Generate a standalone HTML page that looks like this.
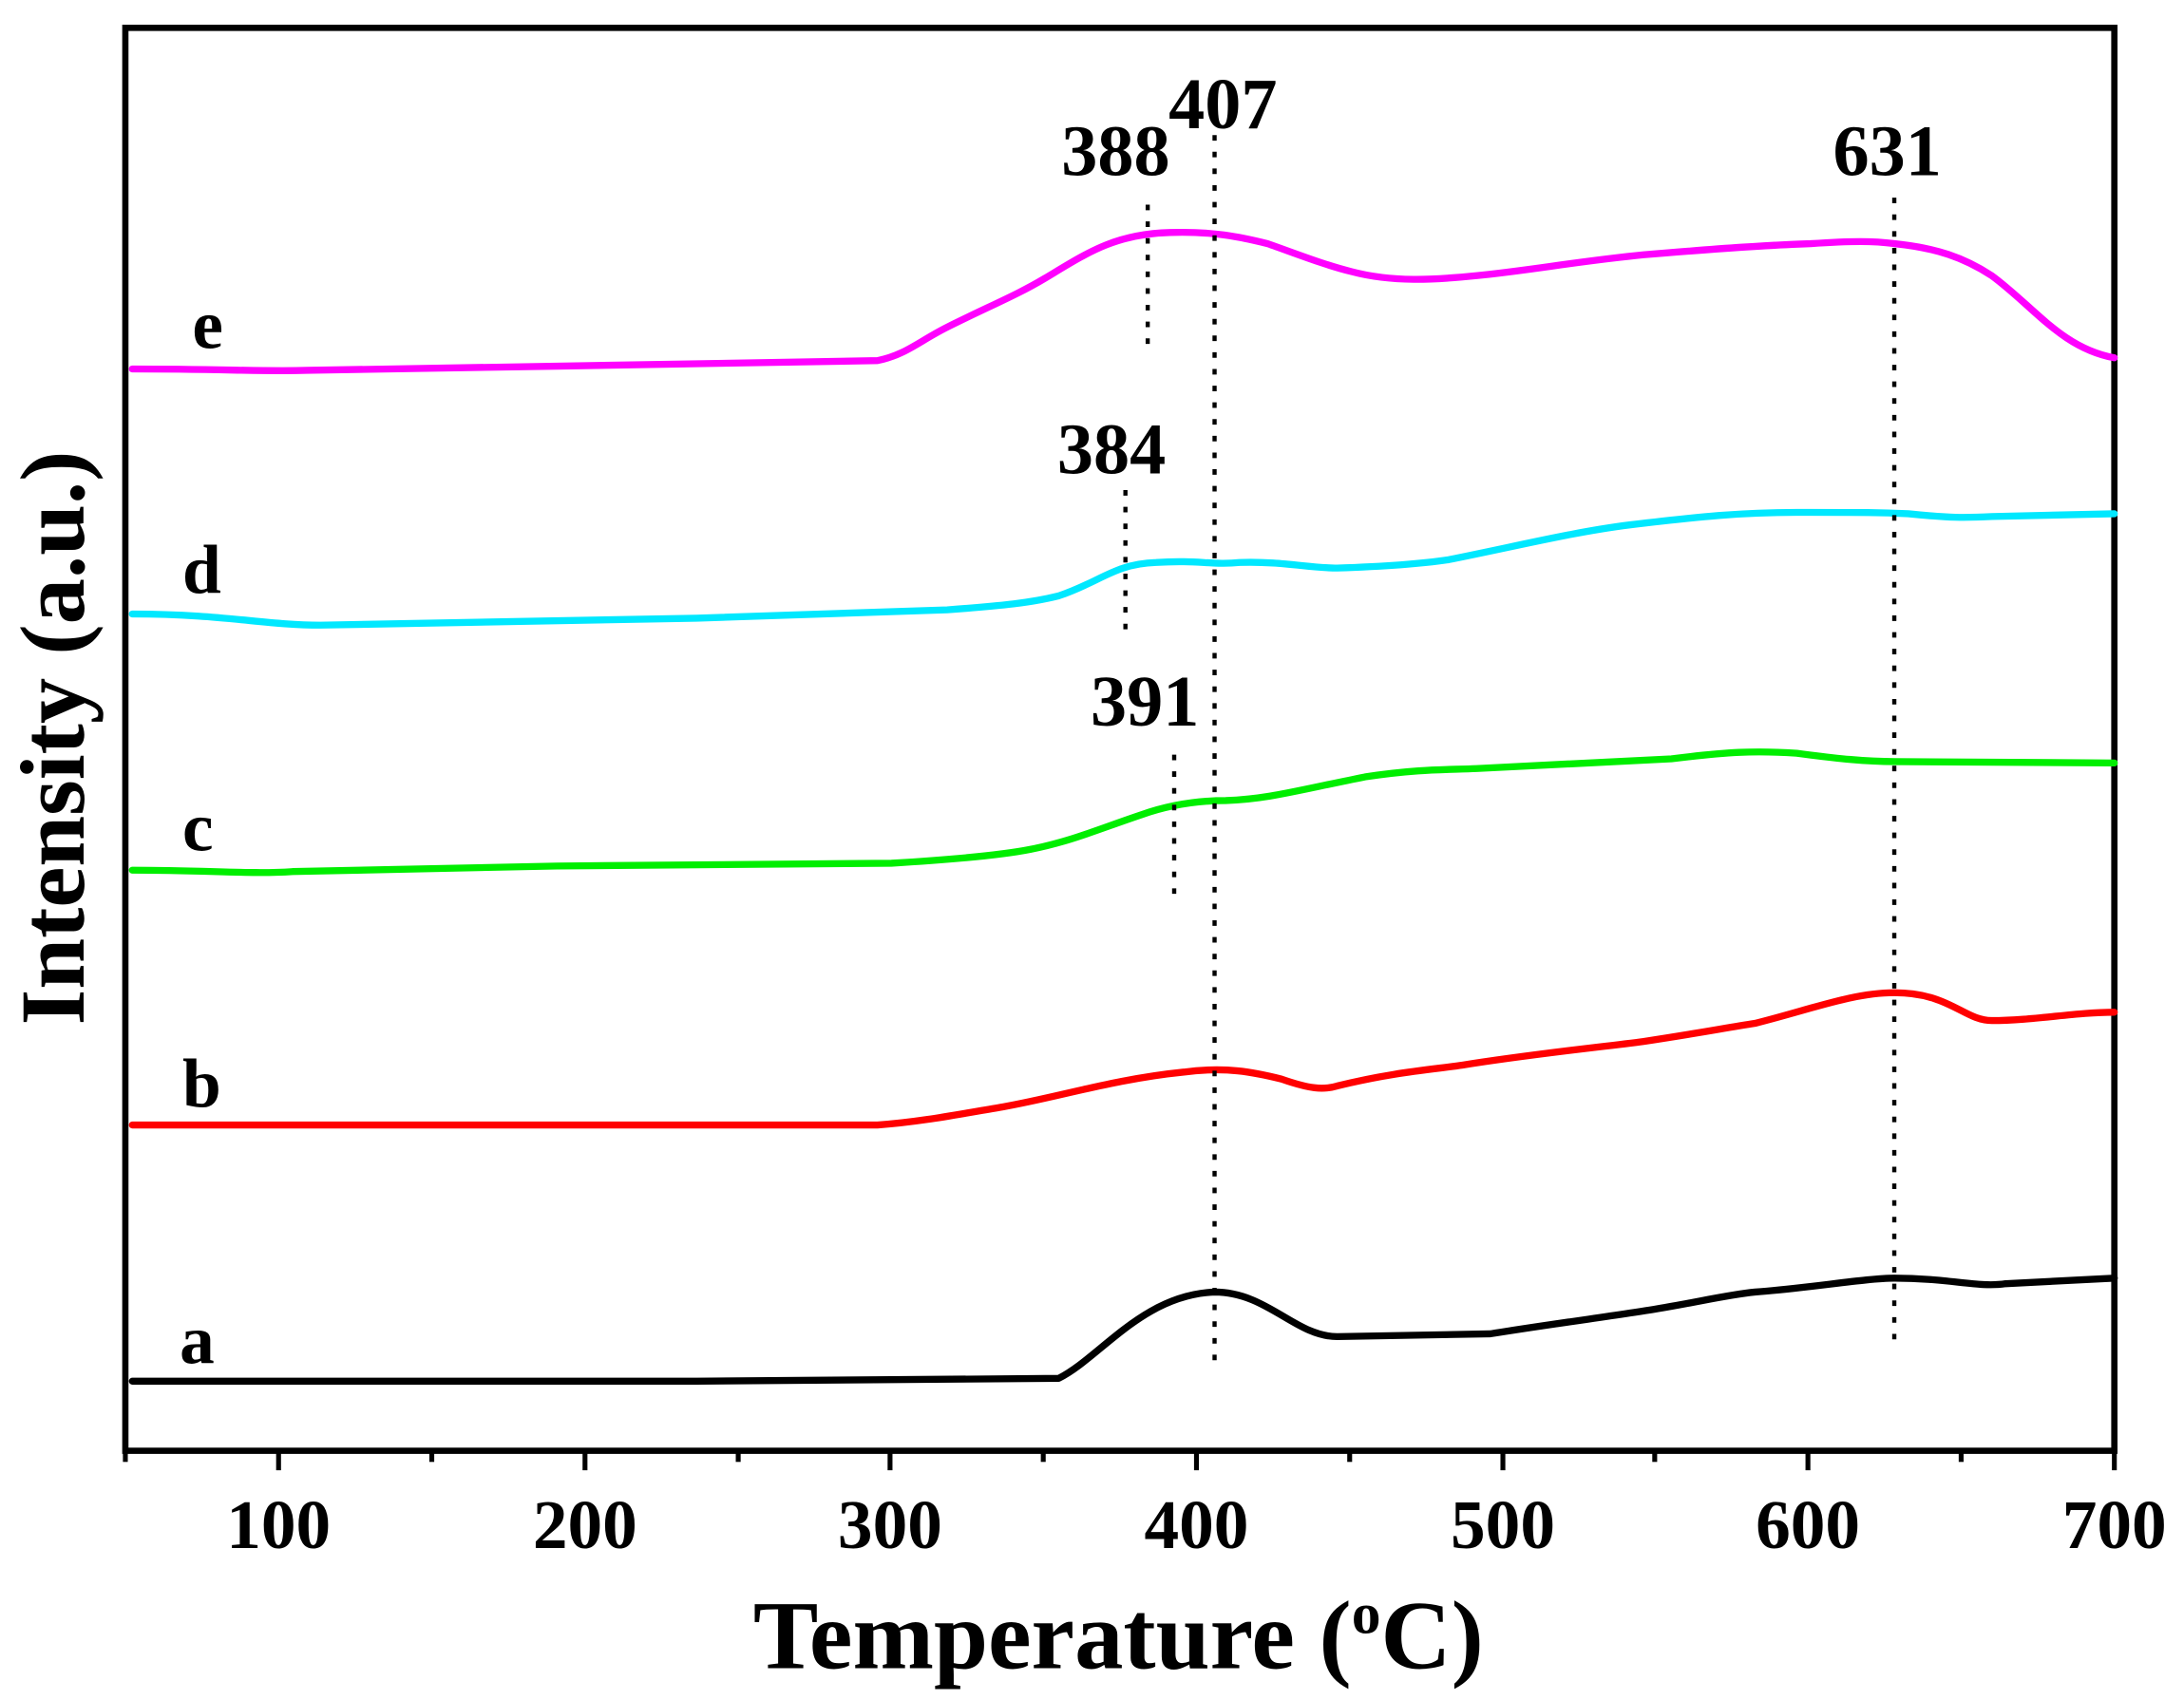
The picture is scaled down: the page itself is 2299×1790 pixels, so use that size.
<!DOCTYPE html>
<html><head><style>html,body{margin:0;padding:0;background:#fff}svg{display:block}</style></head>
<body>
<svg width="2299" height="1790" viewBox="0 0 1568 1221" preserveAspectRatio="none" xmlns="http://www.w3.org/2000/svg" font-family="Liberation Serif, serif" font-weight="bold">
<rect x="90" y="20" width="1428" height="1022" fill="none" stroke="#000" stroke-width="4.5"/>
<g stroke="#000" stroke-width="3.5">
<line x1="200" y1="1042" x2="200" y2="1056"/><line x1="420" y1="1042" x2="420" y2="1056"/><line x1="639" y1="1042" x2="639" y2="1056"/><line x1="859" y1="1042" x2="859" y2="1056"/><line x1="1079" y1="1042" x2="1079" y2="1056"/><line x1="1298" y1="1042" x2="1298" y2="1056"/><line x1="1518" y1="1042" x2="1518" y2="1056"/>
<line x1="310" y1="1042" x2="310" y2="1050"/><line x1="530" y1="1042" x2="530" y2="1050"/><line x1="749" y1="1042" x2="749" y2="1050"/><line x1="969" y1="1042" x2="969" y2="1050"/><line x1="1188" y1="1042" x2="1188" y2="1050"/><line x1="1408" y1="1042" x2="1408" y2="1050"/><line x1="90" y1="1042" x2="90" y2="1050"/>
</g>
<g font-size="50" text-anchor="middle">
<text x="200" y="1112">100</text><text x="420" y="1112">200</text><text x="639" y="1112">300</text><text x="859" y="1112">400</text><text x="1079" y="1112">500</text><text x="1298" y="1112">600</text><text x="1518" y="1112">700</text>
</g>
<text x="803" y="1198" font-size="70" text-anchor="middle">Temperature (<tspan font-size="42" dy="-25">o</tspan><tspan dy="25">C)</tspan></text>
<text transform="translate(60,530) rotate(-90)" font-size="66" text-anchor="middle">Intensity (a.u.)</text>
<g fill="none" stroke-width="5" stroke-linejoin="round" stroke-linecap="round">
<path stroke="#000" d="M95,992 L500,992 L760,990 C790,975 820,930 872,928 C910,928 930,960 960,960 L1070,958 C1120,950 1160,945 1190,940 C1220,935 1240,930 1260,928 C1300,925 1340,918 1360,918 C1400,918 1420,925 1440,922 L1518,918"/>
<path stroke="#ff0000" d="M95,808 L630,808 C660,806 690,800 720,795 C760,788 800,775 850,770 C880,766 900,770 920,775 C940,782 950,783 960,780 C1000,770 1030,768 1050,765 C1100,757 1150,752 1180,748 C1220,742 1240,738 1260,735 C1300,725 1330,713 1360,713 C1400,713 1410,733 1430,733 C1460,733 1490,727 1518,727"/>
<path stroke="#00ee00" d="M95,625 C150,625 180,628 210,626 L400,622 L640,620 C690,617 720,614 740,610 C770,604 790,595 820,585 C840,578 860,575 880,575 C910,574 930,568 980,558 C1020,552 1040,553 1060,552 L1200,545 C1240,540 1260,539 1290,541 C1320,545 1340,547 1360,547 L1518,548"/>
<path stroke="#00e8ff" d="M95,441 C160,441 190,449 230,449 L500,444 L680,438 C720,435 740,433 760,428 C790,418 800,405 830,404 C860,402 870,406 890,404 C920,403 940,408 960,408 C990,407 1020,405 1040,402 C1090,392 1130,382 1170,377 C1220,371 1250,368 1290,368 C1340,368 1350,368 1370,369 C1400,372 1410,372 1430,371 L1518,369"/>
<path stroke="#ff00ff" d="M95,265 C160,265 190,267 220,266 L400,263 L630,259 C650,255 660,245 680,235 C710,220 730,212 750,200 C780,182 800,168 840,167 C870,166 890,170 910,175 C930,182 950,190 970,195 C1000,203 1030,201 1060,198 C1100,194 1130,188 1180,183 C1240,178 1270,176 1300,175 C1330,173 1345,173 1360,175 C1390,178 1410,185 1430,198 C1460,220 1480,250 1518,257"/>
</g>
<g stroke="#000" stroke-width="3" stroke-dasharray="4,8" fill="none">
<line x1="872" y1="97" x2="872" y2="982"/>
<line x1="1360" y1="142" x2="1360" y2="962"/>
<line x1="824" y1="147" x2="824" y2="248"/>
<line x1="808" y1="352" x2="808" y2="458"/>
<line x1="843" y1="542" x2="843" y2="644"/>
</g>
<g font-size="52" text-anchor="middle">
<text x="801" y="126">388</text><text x="878" y="92">407</text><text x="1355" y="126">631</text><text x="798" y="340">384</text><text x="822" y="521">391</text>
</g>
<g font-size="50">
<text x="138" y="250">e</text><text x="131" y="426">d</text><text x="131" y="611">c</text><text x="131" y="795">b</text><text x="129" y="979">a</text>
</g>
</svg>
</body></html>
